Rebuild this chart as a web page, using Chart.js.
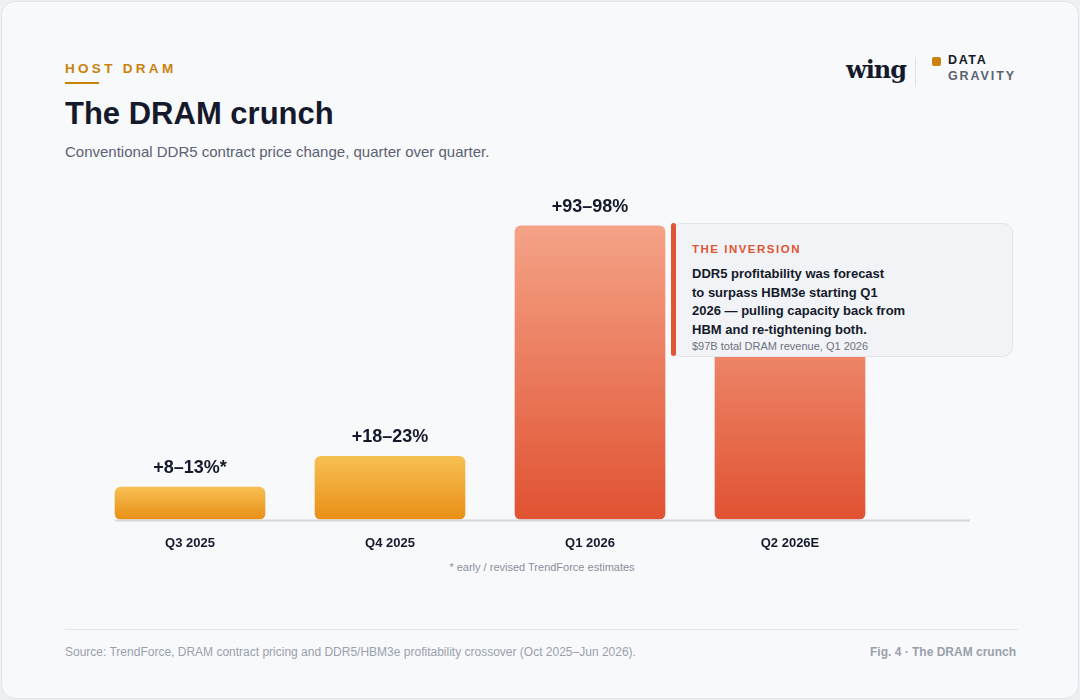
<!DOCTYPE html>
<html><head><meta charset="utf-8">
<script src="https://cdn.jsdelivr.net/npm/chart.js@4.4.1/dist/chart.umd.min.js"></script>
<style>
  html,body{margin:0;padding:0;background:#eef0f3;font-family:"Liberation Sans",Arial,sans-serif;}
  .card{position:absolute;left:1px;top:1px;width:1076px;height:696px;background:#f8f9fb;border:1px solid #e3e5ea;border-radius:14px;overflow:hidden;}
  .kicker{position:absolute;left:63px;top:59px;font-size:13.5px;font-weight:700;letter-spacing:3.3px;color:#c9820c;}
  .kline{position:absolute;left:63px;top:80px;width:34px;height:2px;background:#c9820c;}
  h1{position:absolute;left:63px;top:94px;margin:0;font-size:31px;font-weight:700;color:#141a2b;}
  .sub{position:absolute;left:63px;top:141px;font-size:15px;color:#5b6271;}
  .logo{position:absolute;left:844px;top:53px;font-family:"DejaVu Serif",serif;font-weight:700;font-size:24px;color:#141a2b;letter-spacing:-1px;}
  .sep{position:absolute;left:913px;top:55px;width:1px;height:30px;background:#e0e2e7;}
  .dot{position:absolute;left:930px;top:55px;width:9px;height:9px;border-radius:2px;background:#c9820c;}
  .dg1{position:absolute;left:946px;top:51px;font-size:12.5px;font-weight:700;letter-spacing:1.6px;color:#141a2b;}
  .dg2{position:absolute;left:946px;top:67px;font-size:12.5px;font-weight:700;letter-spacing:1.9px;color:#5b6271;}
  #wrap{position:absolute;left:88px;top:188px;width:880px;height:369px;}
  .note{position:absolute;left:0;width:1080px;top:559px;text-align:center;font-size:11px;color:#8a909c;}
  .call{position:absolute;left:669px;top:221px;width:340px;height:132px;background:#f2f3f6;border:1px solid #e2e4e9;border-radius:10px;}
  .bar{position:absolute;left:669px;top:221px;width:5px;height:133px;background:#e05533;border-radius:3px;}
  .ct{position:absolute;left:690px;top:241px;font-size:11.5px;font-weight:700;letter-spacing:1.5px;color:#e05533;}
  .cb{position:absolute;left:690px;top:263px;font-size:13px;line-height:18.5px;font-weight:700;color:#141a2b;white-space:nowrap;}
  .cs{position:absolute;left:690px;top:338px;font-size:11px;color:#6b7280;}
  .fline{position:absolute;left:63px;top:627px;width:953px;height:1px;background:#e3e5ea;}
  .src{position:absolute;left:63px;top:643px;font-size:12px;color:#9aa0ab;}
  .fig{position:absolute;right:62px;top:643px;font-size:12px;font-weight:700;color:#9aa0ab;}
</style></head>
<body>
<div class="card">
  <div class="kicker">HOST DRAM</div><div class="kline"></div>
  <h1>The DRAM crunch</h1>
  <div class="sub">Conventional DDR5 contract price change, quarter over quarter.</div>
  <div class="logo">wing</div><div class="sep"></div><div class="dot"></div>
  <div class="dg1">DATA</div><div class="dg2">GRAVITY</div>
  <div id="wrap"><canvas id="c"></canvas></div>
  <div class="note">* early / revised TrendForce estimates</div>
  <div class="call"></div><div class="bar"></div>
  <div class="ct">THE INVERSION</div>
  <div class="cb">DDR5 profitability was forecast<br>to surpass HBM3e starting Q1<br>2026 — pulling capacity back from<br>HBM and re-tightening both.</div>
  <div class="cs">$97B total DRAM revenue, Q1 2026</div>
  <div class="fline"></div>
  <div class="src">Source: TrendForce, DRAM contract pricing and DDR5/HBM3e profitability crossover (Oct 2025–Jun 2026).</div>
  <div class="fig">Fig. 4 · The DRAM crunch</div>
</div>
<script>
const quarters = ["Q3 2025", "Q4 2025", "Q1 2026", "Q2 2026E"];
const midpoints = [10.5, 20.5, 95.5, 85];
const rangeLabels = ["+8–13%*", "+18–23%", "+93–98%", "+83–88%"];
const isHot = [false, false, true, true];

// gradient per bar, from its top to the baseline
function barFill(ctx) {
  const chart = ctx.chart, area = chart.chartArea, y = chart.scales.y;
  if (!area || !y) return isHot[ctx.dataIndex] ? "#ea7350" : "#eea030";
  const top = y.getPixelForValue(midpoints[ctx.dataIndex]);
  if (!isFinite(top)) return "#eea030";
  const g = chart.ctx.createLinearGradient(0, top, 0, area.bottom);
  if (isHot[ctx.dataIndex]) { g.addColorStop(0, "#f5a387"); g.addColorStop(1, "#e05232"); }
  else { g.addColorStop(0, "#f7c052"); g.addColorStop(1, "#e88f16"); }
  return g;
}

const extras = {
  id: "extras",
  afterDatasetsDraw(chart) {
    const c = chart.ctx, area = chart.chartArea, x = chart.scales.x;
    c.save();
    c.strokeStyle = "#d3d7de"; c.lineWidth = 2;
    c.beginPath();
    c.moveTo(x.getPixelForValue(0) - 75, area.bottom + 1);
    c.lineTo(area.right + 82, area.bottom + 1);
    c.stroke();
    c.fillStyle = "#141a2b";
    c.font = "700 18px 'Liberation Sans', Arial, sans-serif";
    c.textAlign = "center"; c.textBaseline = "bottom";
    chart.getDatasetMeta(0).data.forEach((el, i) => c.fillText(rangeLabels[i], el.x, el.y - 10));
    c.restore();
  }
};

new Chart(document.getElementById("c"), {
  type: "bar",
  data: { labels: quarters, datasets: [{ data: midpoints, backgroundColor: barFill, barThickness: 150, borderRadius: 6, borderSkipped: false }] },
  plugins: [extras],
  options: {
    responsive: true, maintainAspectRatio: false, animation: false,
    layout: { padding: { top: 22, right: 80 } },
    plugins: { legend: { display: false }, tooltip: { enabled: false } },
    scales: {
      x: { grid: { display: false }, border: { display: false },
           ticks: { color: "#141a2b", padding: 8, font: { size: 13, weight: "700", family: "'Liberation Sans', Arial, sans-serif" } } },
      y: { display: false, min: 0, max: 100 }
    }
  }
});
</script>
</body></html>
